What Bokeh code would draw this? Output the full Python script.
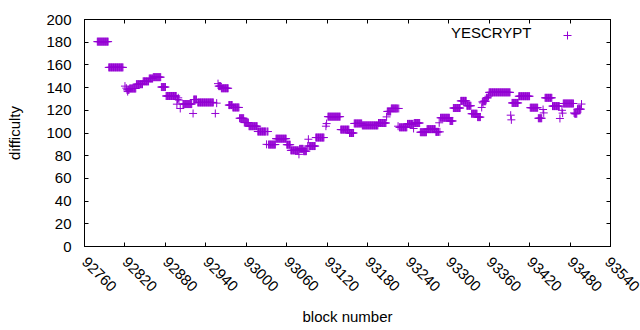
import math
from bokeh.plotting import figure
from bokeh.models import Range1d, FixedTicker, LinearAxis, Label, Legend, LegendItem, ColumnDataSource
from bokeh.core.properties import value
from bokeh.embed import file_html
from bokeh.resources import INLINE

# Runs of consecutive blocks with the same difficulty
run_start = [92779, 92796, 92820, 92822, 92823, 92824, 92825, 92827, 92837, 92847,
             92856, 92862, 92874, 92881, 92897, 92898, 92899, 92900, 92902, 92906,
             92921, 92922, 92928, 92954, 92956, 92958, 92959, 92963, 92974, 92980,
             92990, 92997, 93004, 93017, 93030, 93031, 93033, 93044, 93060, 93066,
             93078, 93079, 93085, 93091, 93092, 93093, 93103, 93118, 93119, 93121,
             93140, 93153, 93160, 93172, 93196, 93208, 93209, 93215, 93225, 93226,
             93227, 93239, 93248, 93249, 93258, 93268, 93281, 93286, 93287, 93288,
             93302, 93307, 93318, 93327, 93334, 93343, 93349, 93350, 93351, 93352,
             93356, 93359, 93360, 93392, 93393, 93394, 93404, 93421, 93433, 93440,
             93441, 93443, 93454, 93465, 93468, 93469, 93470, 93486, 93487, 93491,
             93497]
run_end = [92795, 92817, 92820, 92822, 92823, 92824, 92826, 92836, 92846, 92855,
           92861, 92873, 92880, 92896, 92897, 92898, 92899, 92900, 92902, 92919,
           92921, 92926, 92951, 92954, 92956, 92958, 92962, 92973, 92979, 92989,
           92996, 93003, 93016, 93029, 93030, 93032, 93043, 93059, 93065, 93077,
           93078, 93084, 93089, 93091, 93092, 93102, 93115, 93118, 93119, 93139,
           93152, 93159, 93171, 93195, 93207, 93208, 93214, 93224, 93225, 93226,
           93238, 93247, 93248, 93257, 93267, 93280, 93285, 93286, 93287, 93301,
           93306, 93317, 93326, 93333, 93342, 93347, 93349, 93350, 93351, 93355,
           93358, 93359, 93391, 93392, 93393, 93403, 93420, 93432, 93438, 93440,
           93441, 93453, 93464, 93465, 93468, 93469, 93485, 93486, 93490, 93496,
           93497]
run_diff = [180.5, 157.8, 141.3, 139.5, 138.0, 136.5, 138.0, 139.2, 143.0, 145.5,
            148.0, 149.2, 140.5, 132.6, 125.4, 129.5, 131.0, 129.0, 121.6, 125.5,
            117.2, 129.5, 126.9, 117.2, 126.3, 143.5, 141.3, 139.4, 124.6, 122.5,
            113.0, 109.2, 106.0, 101.3, 90.0, 101.3, 89.8, 95.0, 89.7, 84.7,
            81.2, 86.0, 84.0, 88.5, 94.5, 88.5, 96.0, 106.0, 108.3, 114.4,
            103.0, 100.0, 108.4, 106.7, 108.8, 114.2, 119.0, 121.6, 106.0, 121.6,
            105.0, 108.0, 104.0, 108.8, 100.7, 103.4, 101.0, 109.0, 101.0, 113.4,
            110.6, 122.0, 128.3, 124.0, 117.0, 114.0, 122.5, 127.4, 126.5, 128.0,
            131.0, 132.4, 135.8, 115.7, 111.6, 126.5, 132.4, 122.3, 113.0, 120.7,
            117.7, 131.0, 123.7, 112.8, 120.0, 117.5, 126.0, 117.7, 117.0, 121.0,
            125.5]

x_ticks = list(range(92760, 93541, 60))
y_ticks = list(range(0, 201, 20))
series_name = "YESCRYPT"

blocks, diffs = [], []
for s, e, d in zip(run_start, run_end, run_diff):
    for b in range(s, e + 1):
        blocks.append(b)
        diffs.append(d)

FONT = "Liberation Sans"
FS = "15px"
COLOR = "#9400D3"

p = figure(width=640, height=330,
           x_range=Range1d(92760, 93540), y_range=Range1d(0, 200),
           output_backend="svg", toolbar_location=None,
           min_border_left=84, min_border_right=30, min_border_top=19, min_border_bottom=84)
p.grid.visible = False
p.outline_line_color = "black"
p.outline_line_width = 1
p.background_fill_color = "white"
p.border_fill_color = "white"

src = ColumnDataSource(dict(block=blocks, diff=diffs))
r = p.scatter("block", "diff", source=src, marker="cross", size=8, line_width=1, color=COLOR)

xa = p.xaxis[0]
ya = p.yaxis[0]
xa.ticker = FixedTicker(ticks=x_ticks)
ya.ticker = FixedTicker(ticks=y_ticks)
for ax in (xa, ya):
    ax.major_tick_in = 4
    ax.major_tick_out = 0
    ax.minor_tick_line_color = None
    ax.axis_line_color = "black"
    ax.major_tick_line_color = "black"
    ax.major_label_text_font = FONT
    ax.major_label_text_font_size = FS
    ax.major_label_text_color = "black"
    ax.axis_label_text_font = FONT
    ax.axis_label_text_font_size = FS
    ax.axis_label_text_font_style = "normal"
    ax.axis_label_text_color = "black"

xa.axis_label = "block number"
ya.axis_label = "difficulty"
xa.major_label_orientation = -math.pi / 4
xa.major_label_standoff = 13
xa.axis_label_standoff = 9
ya.major_label_standoff = 13
ya.axis_label_standoff = 20

top = LinearAxis(ticker=FixedTicker(ticks=x_ticks))
right = LinearAxis(ticker=FixedTicker(ticks=y_ticks))
top.major_label_overrides = {t: "" for t in x_ticks}
right.major_label_overrides = {t: "" for t in y_ticks}
for ax in (top, right):
    ax.major_tick_in = 4
    ax.major_tick_out = 0
    ax.minor_tick_line_color = None
    ax.major_label_text_font_size = "0px"
    ax.major_label_standoff = 0
    ax.axis_line_color = "black"
p.add_layout(top, "above")
p.add_layout(right, "right")

legend = Legend(items=[LegendItem(label=value(" "), renderers=[r])],
                location=(472.5, 201.5), border_line_color=None, background_fill_alpha=0,
                padding=0, margin=0, spacing=0, glyph_width=20, glyph_height=20,
                label_width=0, label_standoff=0, label_text_font_size="1px")
p.add_layout(legend)

p.add_layout(Label(x=447, y=214, x_units="screen", y_units="screen", text=series_name,
                   text_align="right", text_baseline="middle",
                   text_font=FONT, text_font_size=FS, text_color="black"))

open("out.html", "w").write(file_html(p, INLINE))
